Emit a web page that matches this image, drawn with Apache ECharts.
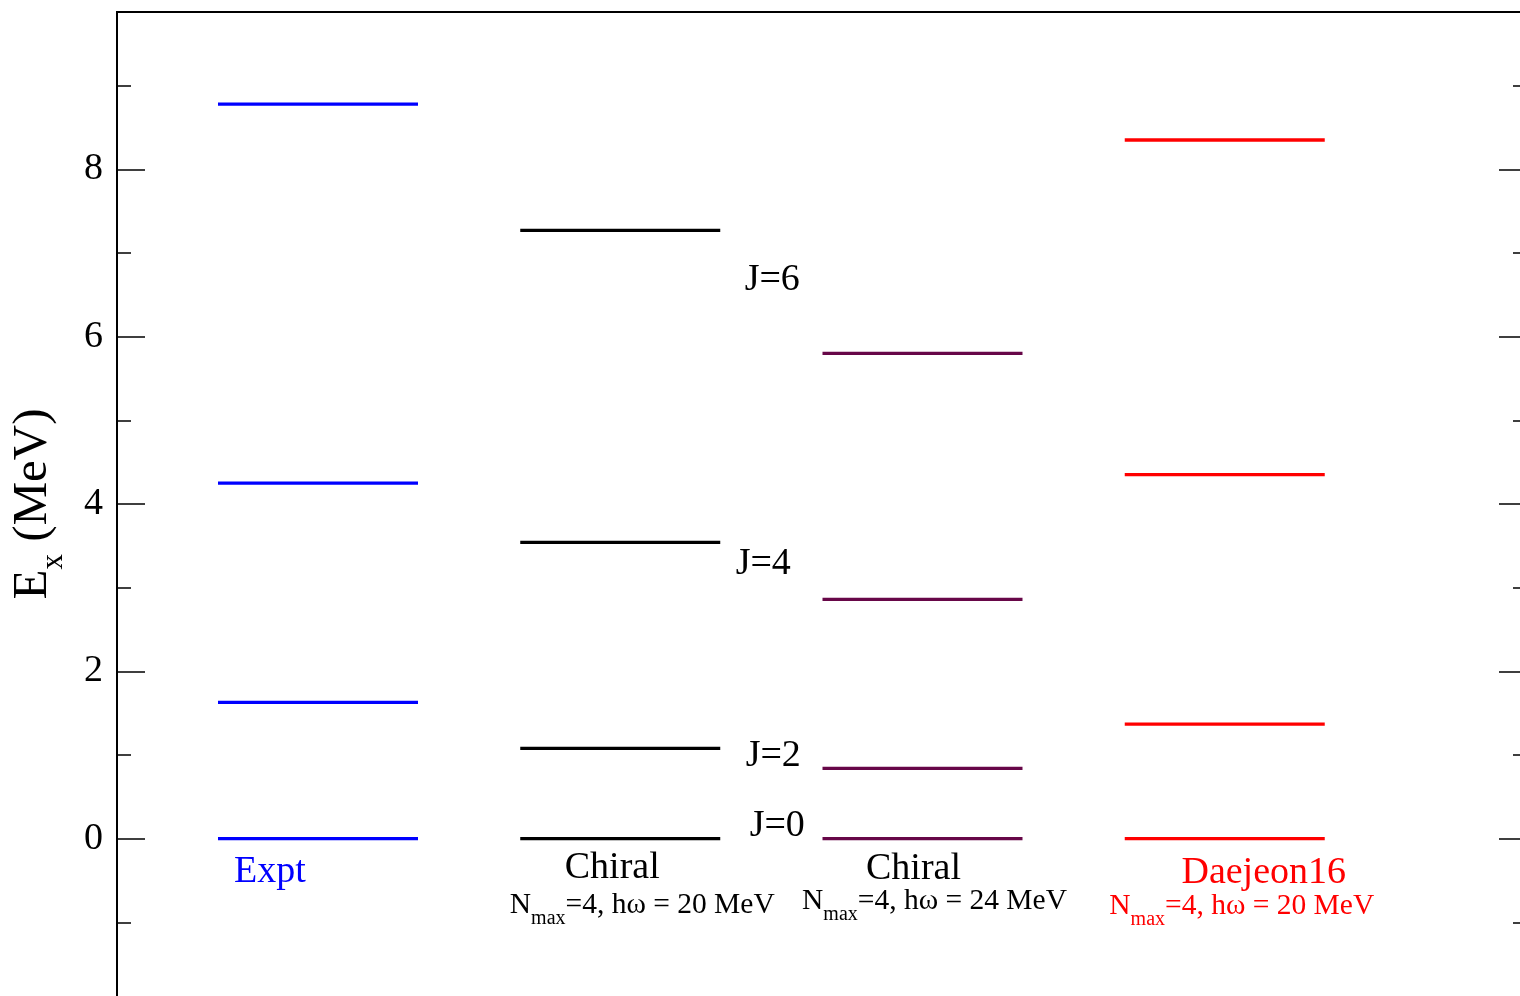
<!DOCTYPE html>
<html>
<head>
<meta charset="utf-8">
<script src="https://cdn.jsdelivr.net/npm/echarts@6/dist/echarts.min.js"></script>
<style>
  html, body { margin: 0; padding: 0; background: #fff; }
  #chart { width: 1520px; height: 996px; }
</style>
</head>
<body>
<div id="chart"></div>
<script>
// level energies (MeV) per column
const exptLevels = [0, 1.63, 4.25, 8.78];
const chiral20Levels = [0, 1.08, 3.54, 7.27];
const chiral24Levels = [0, 0.84, 2.86, 5.80];
const daejeonLevels = [0, 1.37, 4.35, 8.35];
const spinLabels = ['J=0', 'J=2', 'J=4', 'J=6'];
const columnTitles = ['Expt', 'Chiral', 'Chiral', 'Daejeon16'];
const columnHw = [null, 20, 24, 20];
const levelColors = ['#0000ff', '#000000', '#670748', '#ff0000'];
const titleColors = ['#0000ff', '#000000', '#000000', '#ff0000'];

const FONT = 'Liberation Serif';
const chart = echarts.init(document.getElementById('chart'));

const allLevels = [exptLevels, chiral20Levels, chiral24Levels, daejeonLevels];

// J label offsets next to the Chiral (20 MeV) levels
const spinOffsets = [[157, -13], [153, 8], [143, 22], [152, 50]];

const series = allLevels.map((levels, i) => ({
  type: 'scatter',
  silent: true,
  symbol: 'rect',
  symbolSize: [200, 3.3],
  itemStyle: { color: levelColors[i], opacity: 1 },
  data: levels.map((e, k) => {
    const item = { value: [i, e] };
    if (i === 1) {
      item.label = {
        show: true,
        position: 'inside',
        offset: spinOffsets[k],
        formatter: spinLabels[k],
        color: '#000',
        fontFamily: FONT,
        fontSize: 38
      };
    }
    return item;
  })
}));

function yAxisCfg(position, interval, tickLen, showLabel) {
  return {
    type: 'value',
    position: position,
    min: -2,
    max: 9.88,
    interval: interval,
    axisLine: { show: true, onZero: false, lineStyle: { color: '#000', width: 2 } },
    axisTick: { show: true, inside: true, length: tickLen, lineStyle: { color: '#000', width: 1.5 } },
    splitLine: { show: false },
    axisLabel: {
      show: showLabel,
      margin: 14,
      color: '#000',
      fontFamily: FONT,
      fontSize: 38,
      formatter: v => (Number.isInteger(v) && v >= 0 ? String(v) : '')
    }
  };
}

const left0 = yAxisCfg('left', 2, 28, true);
left0.name = '{e|E}{s|x}{e| (MeV)}';
left0.nameLocation = 'middle';
left0.nameGap = 48;
left0.nameRotate = 90;
left0.nameTextStyle = {
  fontFamily: FONT,
  color: '#000',
  padding: [0, 0, 0, 10],
  rich: {
    e: { fontFamily: FONT, fontSize: 49, lineHeight: 49, verticalAlign: 'top', align: 'left', color: '#000' },
    s: { fontFamily: FONT, fontSize: 31, lineHeight: 60, verticalAlign: 'bottom', align: 'left', color: '#000' }
  }
};

chart.setOption({
  animation: false,
  backgroundColor: '#fff',
  grid: { left: 117, right: -7, top: 12, bottom: -10, outerBoundsMode: 'none' },
  xAxis: {
    type: 'value',
    position: 'top',
    min: -0.665,
    max: 4.0,
    axisLine: { show: true, onZero: false, lineStyle: { color: '#000', width: 2 } },
    axisTick: { show: false },
    axisLabel: { show: false },
    splitLine: { show: false }
  },
  yAxis: [
    left0,
    yAxisCfg('left', 1, 14, false),
    yAxisCfg('right', 2, 28, false),
    yAxisCfg('right', 1, 14, false)
  ],
  series: series
});

// column titles and model-space captions under the ground states
const titleOffsets = [[-48, 33], [-8, 29], [-9, 30], [39, 34]];
const captionOffsets = [null, [22, 67], [12, 63], [17, 68]];
const graphics = [];
columnTitles.forEach((t, i) => {
  const p = chart.convertToPixel({ gridIndex: 0 }, [i, 0]);
  const c = titleColors[i];
  graphics.push({
    type: 'text',
    x: p[0] + titleOffsets[i][0],
    y: p[1] + titleOffsets[i][1],
    style: {
      text: t, fill: c, fontFamily: FONT, fontSize: 38,
      align: 'center', verticalAlign: 'middle'
    }
  });
  if (columnHw[i] !== null) {
    graphics.push({
      type: 'text',
      x: p[0] + captionOffsets[i][0],
      y: p[1] + captionOffsets[i][1] + 4,
      style: {
        text: '{n|N}{s|max}{n|=4, hω = ' + columnHw[i] + ' MeV}',
        fill: c,
        fontFamily: FONT,
        align: 'center', verticalAlign: 'middle',
        rich: {
          n: { fontFamily: FONT, fontSize: 29.5, lineHeight: 30, verticalAlign: 'top', align: 'left', fill: c },
          s: { fontFamily: FONT, fontSize: 20, lineHeight: 38, verticalAlign: 'bottom', align: 'left', fill: c }
        }
      }
    });
  }
});
chart.setOption({ graphic: graphics });
</script>
</body>
</html>
